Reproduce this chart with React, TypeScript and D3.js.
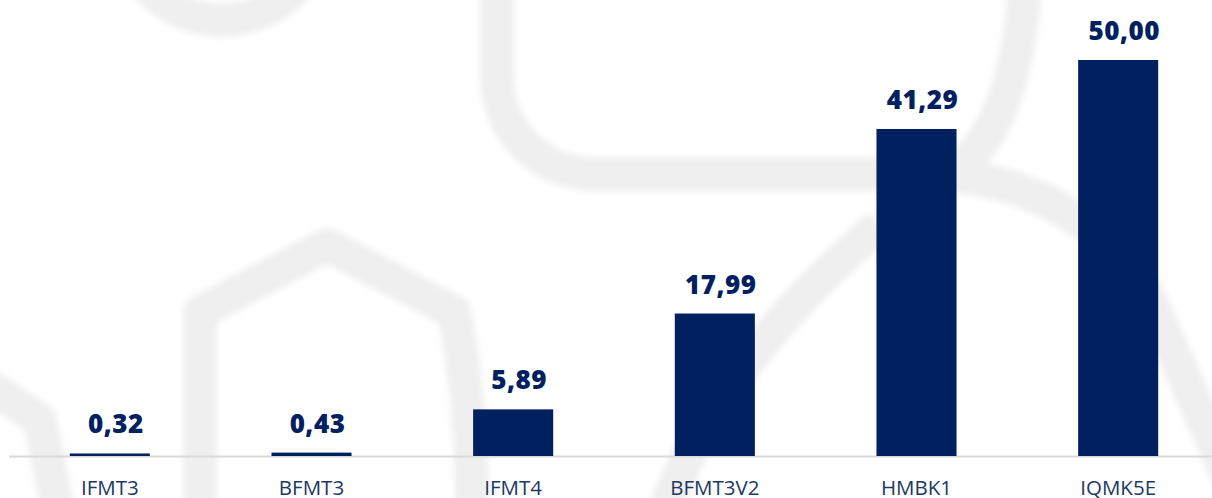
import React from "react";
import * as d3 from "d3";

const categories = ["IFMT3", "BFMT3", "IFMT4", "BFMT3V2", "HMBK1", "IQMK5E"];
const values = [0.32, 0.43, 5.89, 17.99, 41.29, 50.0];
const valueLabels = ["0,32", "0,43", "5,89", "17,99", "41,29", "50,00"];

const W = 1212;
const H = 498;
const BAR = "#002060";
const CAT = "#203864";

const watermark = [
  "M 122 -80 A 100 100 0 0 0 322 -80",
  "M 497 -10 L 497 77 A 97 97 0 0 0 594 174 L 930 174 Q 1010 165 1025 -10",
  "M 930 174 Q 1080 180 1150 300 L 1230 480",
  "M 880 225 Q 720 360 665 510",
  "M 200 510 L 200 312 L 327 245 L 454 312 Q 472 400 472 510",
  "M -20 380 L 40 420 L 58 510",
];

export default function App() {
  const x = d3.scaleBand<string>().domain(categories).range([9, 1219]).paddingInner(0.603).paddingOuter(0.3015);
  const y = d3.scaleLinear().domain([0, 50]).range([456, 60]);
  const bw = x.bandwidth();

  return (
    <svg width={W} height={H} style={{ position: "absolute", left: 0, top: 0, background: "#fff" }}>
      <defs>
        <filter id="blur" x="-10%" y="-10%" width="120%" height="120%">
          <feGaussianBlur stdDeviation="3" />
        </filter>
      </defs>
      <g filter="url(#blur)" fill="none" stroke="#efefef" strokeWidth={34} strokeLinejoin="round">
        {watermark.map((d, i) => (
          <path key={i} d={d} />
        ))}
      </g>
      <line x1={9} x2={W} y1={y(0) + 0.5} y2={y(0) + 0.5} stroke="#d9d9d9" strokeWidth={2} />
      {categories.map((c, i) => {
        const x0 = x(c)!;
        const top = y(values[i]);
        return (
          <g key={c}>
            <rect x={x0} y={top} width={bw} height={y(0) - top} fill={BAR} />
            <text
              x={x0 + bw / 2 + 6}
              y={top - 20}
              textAnchor="middle"
              fontFamily="'Open Sans', sans-serif"
              fontWeight={800}
              fontSize={26}
              letterSpacing={0.5}
              fill={BAR}
            >
              {valueLabels[i]}
            </text>
            <text
              x={x0 + bw / 2}
              y={495}
              textAnchor="middle"
              fontFamily="'Open Sans', sans-serif"
              fontSize={20.5}
              fill={CAT}
            >
              {c}
            </text>
          </g>
        );
      })}
    </svg>
  );
}
